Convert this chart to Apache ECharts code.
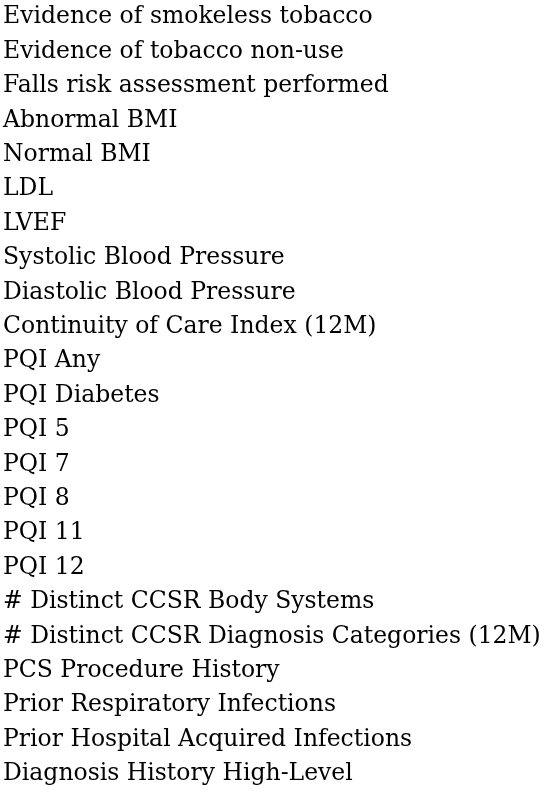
<!DOCTYPE html>
<html>
<head>
<meta charset="utf-8">
<script src="https://cdn.jsdelivr.net/npm/echarts@6/dist/echarts.min.js"></script>
<style>html,body{margin:0;padding:0;background:#fff}#main{width:544px;height:794px}</style>
</head>
<body>
<div id="main"></div>
<script>
var categories = [
    'Evidence of smokeless tobacco',
    'Evidence of tobacco non-use',
    'Falls risk assessment performed',
    'Abnormal BMI',
    'Normal BMI',
    'LDL',
    'LVEF',
    'Systolic Blood Pressure',
    'Diastolic Blood Pressure',
    'Continuity of Care Index (12M)',
    'PQI Any',
    'PQI Diabetes',
    'PQI 5',
    'PQI 7',
    'PQI 8',
    'PQI 11',
    'PQI 12',
    '# Distinct CCSR Body Systems',
    '# Distinct CCSR Diagnosis Categories (12M)',
    'PCS Procedure History',
    'Prior Respiratory Infections',
    'Prior Hospital Acquired Infections',
    'Diagnosis History High-Level'
];
// no bars visible in the crop, only the labels
var values = categories.map(function () { return null; });

var myChart = echarts.init(document.getElementById('main'));
var option = {
    animation: false,
    grid: {left: 0, right: 0, top: -9, height: 800.4},
    xAxis: {type: 'value', show: false, min: 0, max: 1},
    yAxis: {
        type: 'category',
        inverse: true,
        data: categories,
        axisLine: {show: false},
        axisTick: {show: false},
        axisLabel: {
            align: 'left',
            margin: 3,
            color: '#000',
            fontFamily: 'DejaVu Serif',
            fontSize: 23.5
        }
    },
    series: [{type: 'bar', data: values}]
};
myChart.setOption(option);
</script>
</body>
</html>
